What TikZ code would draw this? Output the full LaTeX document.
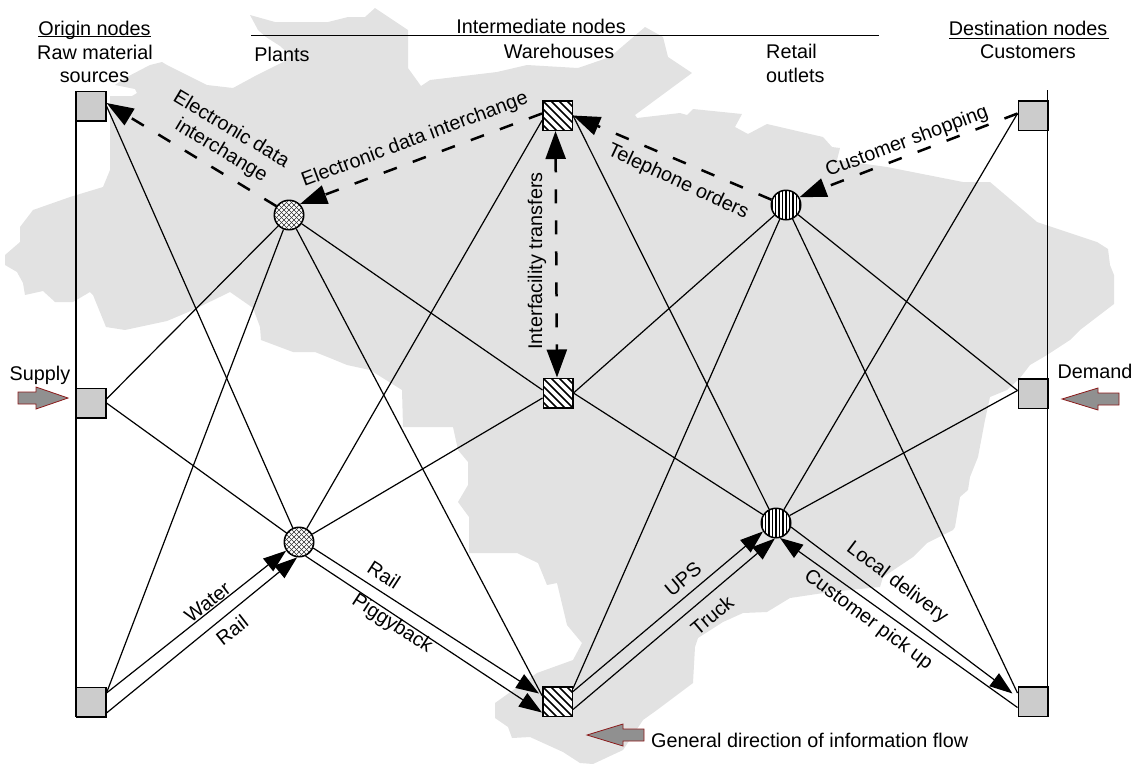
\documentclass[tikz,border=0pt]{standalone}
\usepackage{fontspec}
\setmainfont{Liberation Sans}
\usetikzlibrary{arrows.meta}
\definecolor{mapgray}{HTML}{E2E2E2}
\definecolor{boxgray}{HTML}{CCCCCC}
\definecolor{blockfill}{HTML}{909090}
\definecolor{blockedge}{HTML}{8B1A1A}
\tikzset{
  lbl/.style={font=\fontsize{19.8}{22}\selectfont,inner sep=0pt,text=black},
  base/.style={lbl,anchor=base},
  sq/.style={draw=black,line width=1.5pt,minimum size=29.5pt,inner sep=0pt,shape=rectangle},
  origin/.style={sq,fill=boxgray},
  ware/.style={sq,fill=white,path picture={
    \begin{scope}[shift={(path picture bounding box.center)}]
      \foreach \i in {-48,-40,...,48}{\draw[line width=1.5pt] (\i-24,-24) -- (\i+24,24);}
    \end{scope}}},
  circ/.style={draw=black,line width=1.5pt,minimum size=29.5pt,inner sep=0pt,shape=circle,fill=white},
  plant/.style={circ,path picture={
    \begin{scope}[shift={(path picture bounding box.center)}]
      \foreach \i in {-40,-35,...,40}{
        \draw[line width=.5pt,black!80] (\i-20,-20) -- (\i+20,20);
        \draw[line width=.5pt,black!80] (\i-20,20) -- (\i+20,-20);}
    \end{scope}}},
  retail/.style={circ,path picture={
    \begin{scope}[shift={(path picture bounding box.center)}]
      \foreach \i in {-17.5,-14,...,17.5}{\draw[line width=1.1pt] (\i,-20) -- (\i,20);}
    \end{scope}}},
  link/.style={draw=black,line width=1.2pt},
  railline/.style={draw=black,line width=1.4pt},
  flow/.style={link,-{Triangle[length=23pt,width=16pt]}},
  info/.style={draw=black,line width=2.5pt,dash pattern=on 14pt off 17pt,-{Triangle[length=27pt,width=19pt]}},
  infotwo/.style={draw=black,line width=2.5pt,dash pattern=on 14pt off 17pt,{Triangle[length=28pt,width=20pt]}-{Triangle[length=28pt,width=20pt]}},
  block/.style={draw=blockedge,fill=blockfill,line width=.8pt},
  rule/.style={draw=black,line width=1.5pt},
  urule/.style={draw=black,line width=1.1pt}
}
\begin{document}
\begin{tikzpicture}[x=1pt,y=-1pt]
\useasboundingbox (0,0) rectangle (1132,764);
% map
\fill[mapgray] (250,15) -- (275,22) -- (328,22) -- (348,17) -- (365,17) -- (375,8) -- (408,30) -- (408,68) -- (421,86) -- (430,80) -- (497,72) -- (527,65) -- (578,68) -- (610,57) -- (645,27) -- (663,37) -- (668,57) -- (692,73) -- (635,115) -- (637,118) -- (680,113) -- (687,115) -- (693,109) -- (742,114) -- (735,127) -- (748,134) -- (767,124) -- (823,137) -- (832,147) -- (840,148) -- (837,160) -- (887,167) -- (963,182) -- (990,182) -- (1023,210) -- (1037,222) -- (1097,242) -- (1108,249) -- (1110,265) -- (1114,275) -- (1114,304) -- (1080,330) -- (1070,340) -- (1047,355) -- (1030,365) -- (1020,378) -- (1007,390) -- (990,397) -- (985,420) -- (978,457) -- (970,477) -- (968,490) -- (960,497) -- (955,527) -- (953,530) -- (927,543) -- (913,557) -- (883,577) -- (880,587) -- (830,592) -- (790,598) -- (767,612) -- (743,613) -- (723,622) -- (698,638) -- (695,647) -- (693,683) -- (657,710) -- (643,720) -- (623,750) -- (593,764) -- (580,763) -- (563,752) -- (530,737) -- (512,738) -- (508,727) -- (495,718) -- (495,703) -- (537,673) -- (573,660) -- (582,643) -- (567,625) -- (557,583) -- (547,585) -- (538,563) -- (517,553) -- (469,553) -- (469,517) -- (458,502) -- (468,485) -- (468,462) -- (458,450) -- (453,427) -- (403,427) -- (402,390) -- (370,370) -- (347,365) -- (330,358) -- (315,352) -- (293,352) -- (261,340) -- (260,327) -- (253,308) -- (230,292) -- (193,310) -- (167,321) -- (125,330) -- (106,327) -- (93,295) -- (90,292) -- (73,302) -- (55,302) -- (43,291) -- (25,295) -- (23,283) -- (17,272) -- (5,265) -- (5,255) -- (20,242) -- (20,227) -- (33,210) -- (70,197) -- (103,187) -- (110,170) -- (110,96) -- (132,96) -- (137,93) -- (135,89) -- (115,85) -- (125,78) -- (150,65) -- (162,62) -- (167,65) -- (207,85) -- (233,88) -- (257,75) -- (283,62) -- (290,55) -- (280,46) -- (266,37) -- (258,30) -- cycle;
% side rails
\coordinate (railOa) at (76,91);
\coordinate (railOb) at (76,717);
\coordinate (railDa) at (1047.5,90);
\coordinate (railDb) at (1047.5,717);
\draw[railline] (railOa) -- (railOb);
\draw[railline] (railDa) -- (railDb);
% nodes
\node[origin] (o1) at (91,106) {};
\node[origin] (o2) at (91,403) {};
\node[origin] (o3) at (91,702) {};
\node[ware] (w1) at (557.5,115.5) {};
\node[ware] (w2) at (558,393) {};
\node[ware] (w3) at (557.5,701.5) {};
\node[origin] (d1) at (1033,115.5) {};
\node[origin] (d2) at (1033,393.5) {};
\node[origin] (d3) at (1033,701.5) {};
\node[plant] (p1) at (289,215) {};
\node[plant] (p2) at (299,542) {};
\node[retail] (r1) at (786,205) {};
\node[retail] (r2) at (776,523) {};
% thin links
\draw[link] (o1.east) -- (p2);
\draw[link] ([yshift=4pt]o2.east) -- (p1);
\draw[link] ([yshift=9pt]o3.east) -- (p1);
\draw[link] (o2.east) -- (p2);
\draw[link] (p1) -- ([yshift=3pt]w2.west);
\draw[link] (p1) -- ([yshift=6pt]w3.west);
\draw[link] (p2) -- ([yshift=-5pt]w1.west);
\draw[link] (p2) -- ([yshift=-5pt]w2.west);
\draw[link] (w1.east) -- (r2);
\draw[link] (w2.east) -- (r2);
\draw[link] (w2.east) -- (r1);
\draw[link] ([yshift=13pt]w3.east) -- (r1);
\draw[link] (r1) -- ([yshift=3pt]d2.west);
\draw[link] (r1) -- ([yshift=8.5pt]d3.west);
\draw[link] (r2) -- ([yshift=2pt]d1.west);
\draw[link] (r2) -- ([yshift=3pt]d2.west);
% mode arrows
\draw[flow] ([yshift=9pt]o3.east) -- (p2.214);
\draw[flow] ([yshift=-11pt]o3.east) -- (p2.263);
\draw[flow] (p2.-23) -- ([xshift=-3pt,yshift=8pt]w3.west);
\draw[flow] (p2.-65) -- ([yshift=-11pt]w3.west);
\draw[flow] ([yshift=10pt]w3.east) -- (r2.213);
\draw[flow] ([yshift=-8pt]w3.east) -- (r2.266);
\draw[flow] (r2.-15) -- ([xshift=-5pt,yshift=8pt]d3.west);
\draw[flow] ([yshift=-6pt]d3.west) -- (r2.-75);
% information arrows
\draw[info] (p1.145) -- ([yshift=3pt]o1.east);
\draw[info] ([yshift=2pt]w1.west) -- (p1.45);
\draw[info] (r1.160) -- (w1.east);
\draw[info] ([yshift=2pt]d1.west) -- (r1.30);
\draw[infotwo] ([xshift=-2pt]w1.south) -- ([xshift=-1pt]w2.north);
% block arrows
\draw[block] (18,392) -- (36,392) -- (36,387) -- (68,398) -- (36,409) -- (36,404) -- (18,404) -- cycle;
\draw[block] (1062,399) -- (1098,388) -- (1098,393) -- (1119,393) -- (1119,405) -- (1098,405) -- (1098,410) -- cycle;
\draw[block] (587,735) -- (623,724) -- (623,729) -- (644,729) -- (644,741) -- (623,741) -- (623,746) -- cycle;
% headers
\node[base] (hOrigin) at (94.5,35) {Origin nodes};
\draw[urule] ([yshift=-1.5pt]hOrigin.base west) -- ([yshift=-1.5pt]hOrigin.base east);
\node[base] (hRaw) at (95,59) {Raw material};
\node[base] (hSources) at (94.5,82) {sources};
\node[base] (hPlants) at (282,61) {Plants};
\node[base] (hInter) at (541,33) {Intermediate nodes};
\coordinate (ruleA) at (251,35.5);
\coordinate (ruleB) at (879,35.5);
\draw[rule] (ruleA) -- (ruleB);
\node[base] (hWare) at (559,58) {Warehouses};
\node[base,anchor=base west] (hRetail) at (766,58) {Retail};
\node[base,anchor=base west] (hOutlets) at (766,82) {outlets};
\node[base] (hDest) at (1028,35) {Destination nodes};
\coordinate (ruleC) at (949,38.7);
\coordinate (ruleD) at (1109,38.7);
\draw[rule] (ruleC) -- (ruleD);
\node[base] (hCust) at (1028,58) {Customers};
\node[base] (tSupply) at (40,380) {Supply};
\node[base] (tDemand) at (1095,378) {Demand};
\node[base,anchor=base west] (tGeneral) at (651,747) {General direction of information flow};
% rotated labels
\node[lbl,rotate=-31] (tEdiA) at (232,128) {Electronic data};
\node[lbl,rotate=-31] (tEdiB) at (221,151) {interchange};
\node[lbl,rotate=20.5] (tEdiC) at (415,140) {Electronic data interchange};
\node[lbl,rotate=-25] (tTel) at (678,182) {Telephone orders};
\node[lbl,rotate=20.5] (tShop) at (907,142) {Customer shopping};
\node[base,rotate=90] (tInter) at (542,261) {Interfacility transfers};
\node[lbl,rotate=38] (tWater) at (207.5,602) {Water};
\node[lbl,rotate=38] (tRailA) at (232,630) {Rail};
\node[lbl,rotate=-33] (tRailB) at (384,575) {Rail};
\node[lbl,rotate=-33] (tPig) at (392,624) {Piggyback};
\node[lbl,rotate=40] (tUps) at (683,579) {UPS};
\node[lbl,rotate=40] (tTruck) at (712,615) {Truck};
\node[lbl,rotate=-37] (tLocal) at (897,583) {Local delivery};
\node[lbl,rotate=-36.5] (tPick) at (868,620) {Customer pick up};
\end{tikzpicture}
\end{document}
